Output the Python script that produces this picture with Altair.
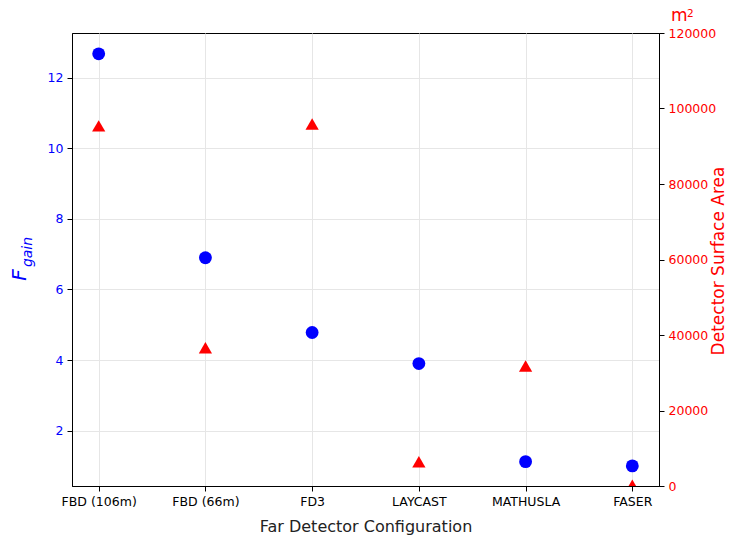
import altair as alt
import pandas as pd

configs = ["FBD (106m)", "FBD (66m)", "FD3", "LAYCAST", "MATHUSLA", "FASER"]
f_gain = [12.68, 6.9, 4.78, 3.9, 1.12, 1.0]
area = [95400, 36600, 95900, 6400, 31800, 200]
left_ticks = [2, 4, 6, 8, 10, 12]
right_ticks = [0, 20000, 40000, 60000, 80000, 100000, 120000]

df = pd.DataFrame({"config": configs, "f_gain": f_gain, "area": area})

FONT = "DejaVu Sans"

x_enc = alt.X(
    "config:N",
    sort=configs,
    scale=alt.Scale(type="point", padding=0.25),
    axis=alt.Axis(
        title="Far Detector Configuration",
        titleFontSize=16,
        titleFontWeight="normal",
        titlePadding=11,
        labelFontSize=12.5,
        labelAngle=0,
        labelPadding=4,
        tickSize=5,
        grid=True,
        gridColor="#e6e6e6",
        labelColor="black",
        titleColor="#222222",
    ),
)

circles = alt.Chart(df).mark_point(
    shape="circle", filled=True, size=165, color="blue", opacity=1
).encode(
    x=x_enc,
    y=alt.Y(
        "f_gain:Q",
        scale=alt.Scale(domain=[0.43, 13.27], nice=False, zero=False),
        axis=alt.Axis(
            title=None,
            values=left_ticks,
            orient="left",
            labelColor="blue",
            labelFontSize=12.5,
            tickSize=5,
            labelPadding=4,
            grid=True,
            gridColor="#e6e6e6",
        ),
    ),
)

triangles = alt.Chart(df).mark_point(
    shape="triangle-up", filled=True, size=175, color="red", opacity=1, clip=True
).encode(
    x=alt.X("config:N", sort=configs, scale=alt.Scale(type="point", padding=0.25)),
    y=alt.Y(
        "area:Q",
        scale=alt.Scale(domain=[0, 120000], nice=False),
        axis=alt.Axis(
            title=None,
            values=right_ticks,
            format="d",
            orient="right",
            labelColor="red",
            labelFontSize=12.5,
            tickSize=5,
            labelPadding=4,
            grid=False,
        ),
    ),
)

one = pd.DataFrame({"k": [0]})

f_text = alt.Chart(one).mark_text(
    text="F", angle=270, fontSize=20, fontStyle="italic", color="blue",
    font=FONT, align="center", baseline="middle",
).encode(x=alt.value(-52), y=alt.value(242))

gain_text = alt.Chart(one).mark_text(
    text="gain", angle=270, fontSize=14, fontStyle="italic", color="blue",
    font=FONT, align="center", baseline="middle",
).encode(x=alt.value(-44), y=alt.value(219))

right_title = alt.Chart(one).mark_text(
    text="Detector Surface Area", angle=270, fontSize=17, color="red",
    font=FONT, align="center", baseline="middle",
).encode(x=alt.value(647), y=alt.value(228))

m_text = alt.Chart(one).mark_text(
    text="m", fontSize=17, color="red", font=FONT,
    align="left", baseline="alphabetic",
).encode(x=alt.value(599), y=alt.value(-12))

sup_text = alt.Chart(one).mark_text(
    text="2", fontSize=10.5, color="red", font=FONT,
    align="left", baseline="alphabetic",
).encode(x=alt.value(615), y=alt.value(-16))

chart = (
    alt.layer(circles, triangles, f_text, gain_text, right_title, m_text, sup_text)
    .resolve_scale(y="independent")
    .properties(
        width=587,
        height=453,
        autosize=alt.AutoSizeParams(type="none"),
        padding={"left": 64, "top": 25, "right": 70, "bottom": 52},
    )
    .configure(font=FONT)
    .configure_view(stroke="black", strokeWidth=1)
    .configure_axis(domainColor="black", tickColor="black", domainWidth=1)
)

chart.save("out.html", embed_options={"renderer": "svg", "actions": False})
